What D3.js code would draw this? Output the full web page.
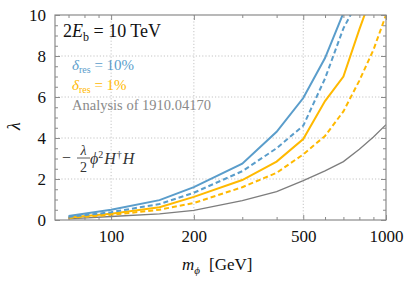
<!DOCTYPE html>
<html>
<head>
<meta charset="utf-8">
<script src="https://cdn.jsdelivr.net/npm/d3@7"></script>
<style>
  body { margin: 0; background: #fff; }
  svg text { font-family: "Liberation Serif", "Tinos", "Times New Roman", "DejaVu Serif", serif; }
</style>
</head>
<body>
<svg id="chart" width="407" height="282"></svg>
<script>
// masses (GeV) and lambda reach for each curve
var masses = [70, 100, 150, 200, 300, 400, 500, 600, 700, 800, 900, 1000];
var blueSolid  = [0.2, 0.5, 0.97, 1.6, 2.75, 4.3, 5.95, 7.9, 10.1, 12.5, null, null];
var blueDashed = [0.15, 0.38, 0.78, 1.33, 2.38, 3.5, 4.6, 6.9, 9.35, 10.8, null, null];
var orangeSolid  = [0.12, 0.3, 0.62, 1.13, 1.95, 2.85, 3.95, 5.8, 7.0, 9.3, 11.2, null];
var orangeDashed = [0.1, 0.25, 0.5, 0.83, 1.6, 2.3, 3.2, 4.1, 5.3, 6.8, 8.3, 10.0];
var analysis = [0.05, 0.17, 0.3, 0.47, 0.95, 1.38, 1.92, 2.4, 2.85, 3.45, 4.05, 4.65];

var xTicks = [100, 200, 500, 1000];
var xMinor = [70, 80, 90, 300, 400, 600, 700, 800, 900];
var yTicks = [0, 2, 4, 6, 8, 10];

var serif = "'Liberation Serif', 'Tinos', 'Times New Roman', 'DejaVu Serif', serif";

var svg = d3.select("#chart"),
    margin = {top: 15, right: 21, bottom: 62, left: 55},
    width = +svg.attr("width") - margin.left - margin.right,
    height = +svg.attr("height") - margin.top - margin.bottom;

var x = d3.scaleLog().domain([62.5, 1000]).range([0, width]);
var y = d3.scaleLinear().domain([0, 10]).range([height, 0]);

var g = svg.append("g").attr("transform", "translate(" + margin.left + "," + margin.top + ")");

// grid
g.append("g").selectAll("line").data([100, 200, 500]).enter().append("line")
  .attr("x1", d => x(d)).attr("x2", d => x(d)).attr("y1", 0).attr("y2", height)
  .attr("stroke", "#c4c4c4").attr("stroke-dasharray", "1.2,2");
g.append("g").selectAll("line").data([2, 4, 6, 8]).enter().append("line")
  .attr("y1", d => y(d)).attr("y2", d => y(d)).attr("x1", 0).attr("x2", width)
  .attr("stroke", "#c4c4c4").attr("stroke-dasharray", "1.2,2");

g.append("defs").append("clipPath").attr("id", "clip")
  .append("rect").attr("width", width).attr("height", height);

var line = d3.line()
  .defined(d => d[1] !== null)
  .x(d => x(d[0])).y(d => y(d[1]));

var series = [
  {vals: analysis, color: "#7d7d7d", width: 1.3, dash: null},
  {vals: orangeDashed, color: "#ffb900", width: 2, dash: "5,3"},
  {vals: orangeSolid, color: "#ffb900", width: 2, dash: null},
  {vals: blueDashed, color: "#5a9dcb", width: 2, dash: "5,3"},
  {vals: blueSolid, color: "#5a9dcb", width: 2, dash: null}
];

g.append("g").attr("clip-path", "url(#clip)").selectAll("path").data(series).enter().append("path")
  .attr("d", s => line(masses.map((m, i) => [m, s.vals[i]])))
  .attr("fill", "none")
  .attr("stroke", s => s.color)
  .attr("stroke-width", s => s.width)
  .attr("stroke-dasharray", s => s.dash);

// frame and ticks (inward, mirrored on all sides)
var frameColor = "#8a8a8a";
var yMinor = d3.range(0, 10.01, 0.5).filter(v => v % 2 !== 0);
g.append("g").attr("transform", "translate(0," + height + ")")
  .call(d3.axisBottom(x).tickValues(xTicks).tickSizeInner(-5).tickSizeOuter(0).tickFormat(d3.format("d")).tickPadding(10));
g.append("g").attr("transform", "translate(0," + height + ")")
  .call(d3.axisBottom(x).tickValues(xMinor).tickSizeInner(-3).tickSizeOuter(0).tickFormat(""));
g.append("g")
  .call(d3.axisTop(x).tickValues(xTicks).tickSizeInner(-5).tickSizeOuter(0).tickFormat(""));
g.append("g")
  .call(d3.axisTop(x).tickValues(xMinor).tickSizeInner(-3).tickSizeOuter(0).tickFormat(""));
g.append("g")
  .call(d3.axisLeft(y).tickValues(yTicks).tickSizeInner(-5).tickSizeOuter(0).tickFormat(d3.format("d")).tickPadding(9));
g.append("g")
  .call(d3.axisLeft(y).tickValues(yMinor).tickSizeInner(-3).tickSizeOuter(0).tickFormat(""));
g.append("g").attr("transform", "translate(" + width + ",0)")
  .call(d3.axisRight(y).tickValues(yTicks).tickSizeInner(-5).tickSizeOuter(0).tickFormat(""));
g.append("g").attr("transform", "translate(" + width + ",0)")
  .call(d3.axisRight(y).tickValues(yMinor).tickSizeInner(-3).tickSizeOuter(0).tickFormat(""));

g.selectAll(".domain").remove();
g.selectAll("g").attr("font-family", serif);
g.selectAll(".tick line").attr("stroke", frameColor);
g.selectAll(".tick text").attr("fill", "#111").attr("font-size", 17);

g.append("rect").attr("width", width).attr("height", height)
  .attr("fill", "none").attr("stroke", frameColor).attr("stroke-width", 1.2);

// annotations
var t1 = svg.append("text").attr("x", 63).attr("y", 37).attr("fill", "#111").attr("font-size", 18);
t1.append("tspan").text("2");
t1.append("tspan").attr("font-style", "italic").text("E");
t1.append("tspan").attr("font-size", 12).attr("dy", 4).text("b");
t1.append("tspan").attr("dy", -4).text(" = 10 TeV");

function deltaLabel(yPos, color, pct) {
  var t = svg.append("text").attr("x", 72).attr("y", yPos).attr("fill", color).attr("font-size", 15);
  t.append("tspan").attr("font-style", "italic").text("δ");
  t.append("tspan").attr("font-size", 10).attr("dy", 3).text("res");
  t.append("tspan").attr("dy", -3).text(" = " + pct);
}
deltaLabel(70, "#5a9dcb", "10%");
deltaLabel(90, "#ffb900", "1%");
svg.append("text").attr("x", 72).attr("y", 110).attr("fill", "#8a8a8a")
  .attr("font-size", 14.5).text("Analysis of 1910.04170");

// operator label
var op = svg.append("g").attr("fill", "#333");
op.append("text").attr("x", 62).attr("y", 163).attr("font-size", 16).text("−");
op.append("text").attr("x", 83.5).attr("y", 155).attr("text-anchor", "middle")
  .attr("font-style", "italic").attr("font-size", 14).text("λ");
op.append("line").attr("x1", 77).attr("x2", 90).attr("y1", 158).attr("y2", 158)
  .attr("stroke", "#333").attr("stroke-width", 0.8);
op.append("text").attr("x", 83.5).attr("y", 172).attr("text-anchor", "middle")
  .attr("font-size", 14).text("2");
var op2 = op.append("text").attr("x", 90).attr("y", 164).attr("font-size", 16);
op2.append("tspan").attr("font-style", "italic").text("ϕ");
op2.append("tspan").attr("font-size", 10).attr("dy", -6).text("2");
op2.append("tspan").attr("dy", 6).attr("dx", 1).attr("font-style", "italic").text("H");
op2.append("tspan").attr("font-size", 10).attr("dy", -6).attr("dx", 1).text("†");
op2.append("tspan").attr("dy", 6).attr("dx", 1).attr("font-style", "italic").text("H");

// axis labels
svg.append("text").attr("transform", "translate(20,126) rotate(-90)")
  .attr("text-anchor", "middle").attr("font-style", "italic")
  .attr("fill", "#111").attr("font-size", 18).text("λ");

var xl = svg.append("text").attr("x", 182).attr("y", 270).attr("fill", "#111").attr("font-size", 17);
xl.append("tspan").attr("font-style", "italic").text("m");
xl.append("tspan").attr("font-size", 11).attr("dy", 4).attr("font-style", "italic").text("ϕ");
xl.append("tspan").attr("dy", -4).attr("dx", 9).text("[GeV]");
</script>
</body>
</html>
